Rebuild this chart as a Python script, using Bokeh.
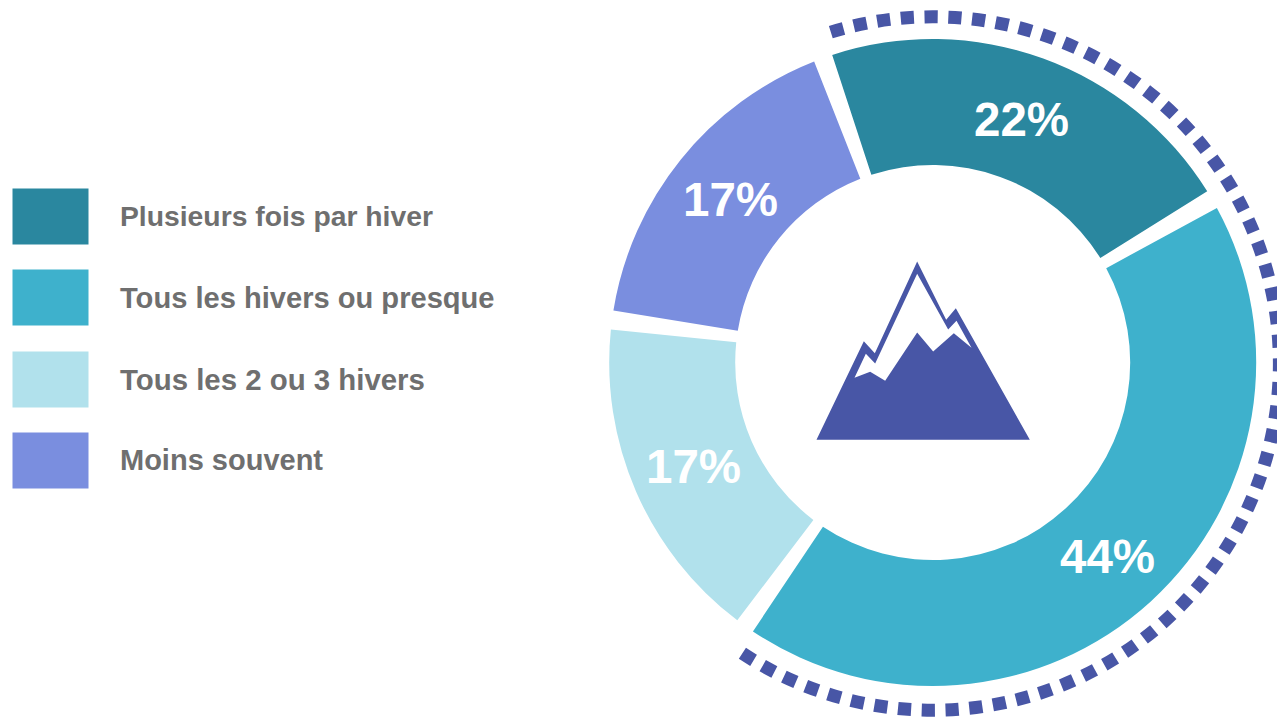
from bokeh.plotting import figure
from bokeh.models import Range1d, ColumnDataSource
from bokeh.core.properties import value
from bokeh.embed import file_html
from bokeh.resources import INLINE
import numpy as np

categories = ["Plusieurs fois par hiver", "Tous les hivers ou presque", "Tous les 2 ou 3 hivers", "Moins souvent"]
shares = [22.1, 43.25, 17.25, 17.4]
labels = ["22%", "44%", "17%", "17%"]
colors = ["#2A879F", "#3EB1CC", "#B1E1EC", "#7A8EDF"]

W, H = 1277, 719
DARK = "#4856A6"
START = 340.2
PAD = 1.7
CX, CY = 932.2, 362.0
R_OUT, R_IN = 323.5, 197.5

def Y(py):
    return 719 - np.asarray(py, dtype=float)

def ang(a):
    return np.deg2rad(90 - np.asarray(a, dtype=float))

p = figure(width=W, height=H, output_backend="svg", toolbar_location=None,
           x_range=Range1d(0, 1277), y_range=Range1d(0, 719), x_axis_type=None, y_axis_type=None,
           min_border=0, outline_line_color=None, background_fill_color="white", border_fill_color="white")
p.grid.visible = False

# donut
edges = START + np.concatenate([[0], np.cumsum(shares)]) * 3.6
p.annular_wedge(x=CX, y=Y(CY), inner_radius=R_IN, outer_radius=R_OUT,
                start_angle=ang(edges[:-1] + PAD), end_angle=ang(edges[1:] - PAD), direction="clock",
                fill_color=colors, line_color=None)

# dotted arc: 59 square dashes around the "at least every winter" share
DOTS = 59
FIRST, LAST = 344.0, 360 + 212.2
R_DOT, W_DOT = 346.7, 13
half = np.rad2deg(6.6 / R_DOT)
centres = np.linspace(FIRST, LAST, DOTS)
p.arc(x=CX, y=Y(363), radius=R_DOT, start_angle=ang(centres - half), end_angle=ang(centres + half),
      direction="clock", line_color=DARK, line_width=W_DOT, line_cap="butt")

# value labels (y is the vertical middle of the digits)
lx = [1021, 1107, 693, 730]
ly = [119, 556, 466, 199]
p.text(x=lx, y=Y(ly), text=labels, text_color="white", text_font=value("Liberation Sans"),
       text_font_style="bold", text_font_size="47.5px", text_align="center", text_baseline="middle")

# legend
top = [188, 269, 351, 432]
p.quad(left=12, right=88, top=Y(top), bottom=Y(np.array(top) + 56), fill_color=colors, line_color=None)
mid = [215, 297, 379, 459]
legend_src = ColumnDataSource(dict(x=[119.5] * 4, y=Y(mid), text=categories,
                                   size=["28.3px", "29.1px", "29.4px", "29px"]))
p.text(x="x", y="y", text="text", source=legend_src, text_color="#6F6F6F", text_font=value("Liberation Sans"),
       text_font_style="bold", text_font_size="size", text_align="left", text_baseline="middle")

# mountain icon
ox = [108, 250, 283, 410, 497, 526, 748]
oy = [628, 332, 368, 93, 268, 233, 628]
sx = [222, 256, 284, 410, 503, 528, 573, 520, 458, 410, 314, 269]
sy = [442, 370, 399, 130, 297, 271, 352, 308, 363, 306, 451, 424]
p.patch(780 + np.array(ox) / 3, Y(230 + np.array(oy) / 3), fill_color=DARK, line_color=None)
p.patch(780 + np.array(sx) / 3, Y(230 + np.array(sy) / 3), fill_color="white", line_color=None)

open("out.html", "w").write(file_html(p, INLINE))
